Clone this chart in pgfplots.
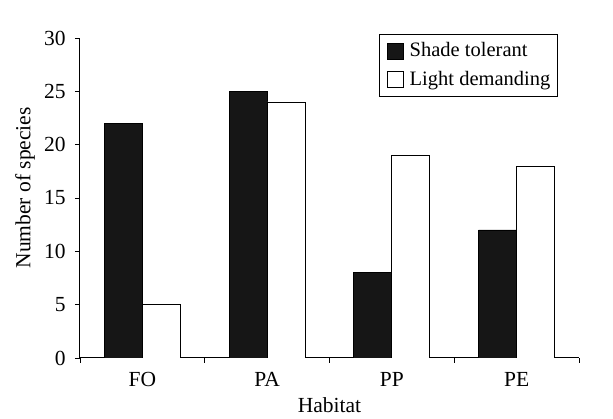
\documentclass[border=0pt]{standalone}
\usepackage{fontspec}
\setmainfont{Liberation Serif}
\usepackage{pgfplots}
\pgfplotsset{compat=1.18}
\usetikzlibrary{calc}
\definecolor{barblack}{HTML}{161616}
\begin{document}
\fontsize{21.5}{25}\selectfont
\begin{tikzpicture}
\begin{axis}[
  scale only axis,
  width=499pt, height=320pt,
  xmin=-0.5, xmax=3.5,
  ymin=0, ymax=30,
  ytick={0,5,10,15,20,25,30},
  xtick={0,1,2,3},
  xticklabels={FO,PA,PP,PE},
  minor xtick={-0.5,0.5,1.5,2.5,3.5},
  major x tick style={draw=none},
  tick align=outside,
  major tick length=5pt,
  minor tick length=5pt,
  tick style={black, line width=0.9pt},
  axis x line*=bottom,
  axis y line*=left,
  axis line style={-, black, line width=1pt},
  /pgf/number format/assume math mode=true,
  tick label style={font=\fontsize{21.5}{25}\selectfont},
  label style={font=\fontsize{21.5}{25}\selectfont},
  yticklabel style={xshift=-2pt},
  xticklabel style={yshift=-2pt},
  xlabel={Habitat},
  ylabel={Number of species},
  every axis x label/.style={at={(axis description cs:0.5,-0.147)}, anchor=center},
  every axis y label/.style={at={(axis description cs:-0.11,0.532)}, rotate=90, anchor=center},
  ybar=0pt,
  bar width=38pt,
  legend style={at={(rel axis cs:0.599,1.0125)}, anchor=north west, draw=black, line width=0.8pt,
     font=\fontsize{20.5}{24}\selectfont, row sep=11pt, column sep=6pt,
     inner xsep=7.5pt, inner ysep=8pt,
     nodes={inner sep=0pt},
     legend cell align=left},
  legend image code/.code={\draw[#1, line width=0.9pt] (0pt,-8pt) rectangle (16pt,8pt);},
]
\addplot[draw=black, fill=barblack, line width=0.8pt] coordinates {(0,22) (1,25) (2,8) (3,12)};
\addplot[draw=black, fill=white, line width=0.8pt] coordinates {(0,5) (1,24) (2,19) (3,18)};
\legend{Shade tolerant, Light demanding}
\coordinate (sw) at (rel axis cs:0,0);
\coordinate (ne) at (rel axis cs:1,1);
\end{axis}
\pgfresetboundingbox
\path ($(sw)+(-80pt,-61pt)$) rectangle ($(ne)+(34pt,38pt)$);
\end{tikzpicture}
\end{document}
